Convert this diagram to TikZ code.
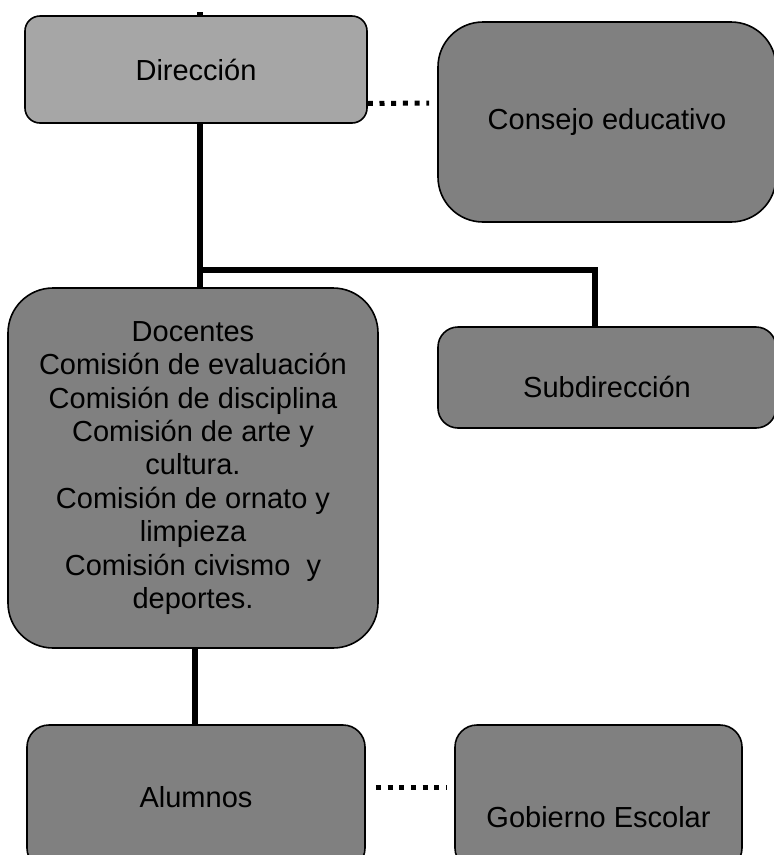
\documentclass[tikz,border=0pt]{standalone}
\usepackage{fontspec}
\setmainfont{Liberation Sans}
\definecolor{headgray}{HTML}{A6A6A6}
\definecolor{boxgray}{HTML}{808080}
\newcommand{\orgfont}{\fontsize{29}{33.4}\selectfont}

\begin{document}
\begin{tikzpicture}[x=1pt, y=-1pt,
		box/.style = {draw, line width=1.6pt, fill=boxgray, rounded corners=#1, inner sep=0pt, font=\orgfont, align=center},
		box/.default = 22pt,
		link/.style = {line width=5.5pt},
		dots/.style = {line width=5pt, dash pattern=on 5pt off 6.7pt}]
		\useasboundingbox (0,0) rectangle (774,855);
		\clip (0,0) rectangle (774,855);
		\node[box=15pt, fill=headgray, minimum width=342pt, minimum height=107pt] (dir) at (196,69.5) {Dirección};
		\node[box=45pt, minimum width=338pt, minimum height=200pt] (cons) at (607,122) {Consejo educativo};
		\node[box=20pt, minimum width=338pt, minimum height=101pt, label={[font=\orgfont, yshift=-9pt]center:Subdirección}] (sub) at (607,377.5) {};
		\node[box=45pt, minimum width=370pt, minimum height=360pt] (doc) at (193,468) {Docentes\\Comisión de evaluación\\Comisión de disciplina\\Comisión de arte y\\cultura.\\Comisión de ornato y\\limpieza\\Comisión civismo~ y\\deportes.};
		\node[box, minimum width=338pt, minimum height=145pt] (alu) at (196,797.5) {Alumnos};
		\node[box, minimum width=287pt, minimum height=145pt, label={[font=\orgfont, yshift=-20pt]center:Gobierno Escolar}] (gob) at (598.5,797.5) {};
		\coordinate (split) at (200,270);
		\draw[link] ([xshift=4pt]dir.north) -- ++(0,-3.5);
		\draw[link] ([xshift=4pt]dir.south) -- (split) -| ([xshift=-12pt]sub.north);
		\draw[link] (split) -- (split |- doc.north);
		\draw[link] ([xshift=2pt]doc.south) -- ([xshift=2pt]doc.south |- alu.north);
		\draw[dots] ([yshift=-34pt]dir.east) -- ([yshift=19pt, xshift=-8pt]cons.west);
		\draw[dots] ([yshift=10pt, xshift=10pt]alu.east) -- ([yshift=10pt, xshift=-7pt]gob.west);
	\end{tikzpicture}
\end{document}
